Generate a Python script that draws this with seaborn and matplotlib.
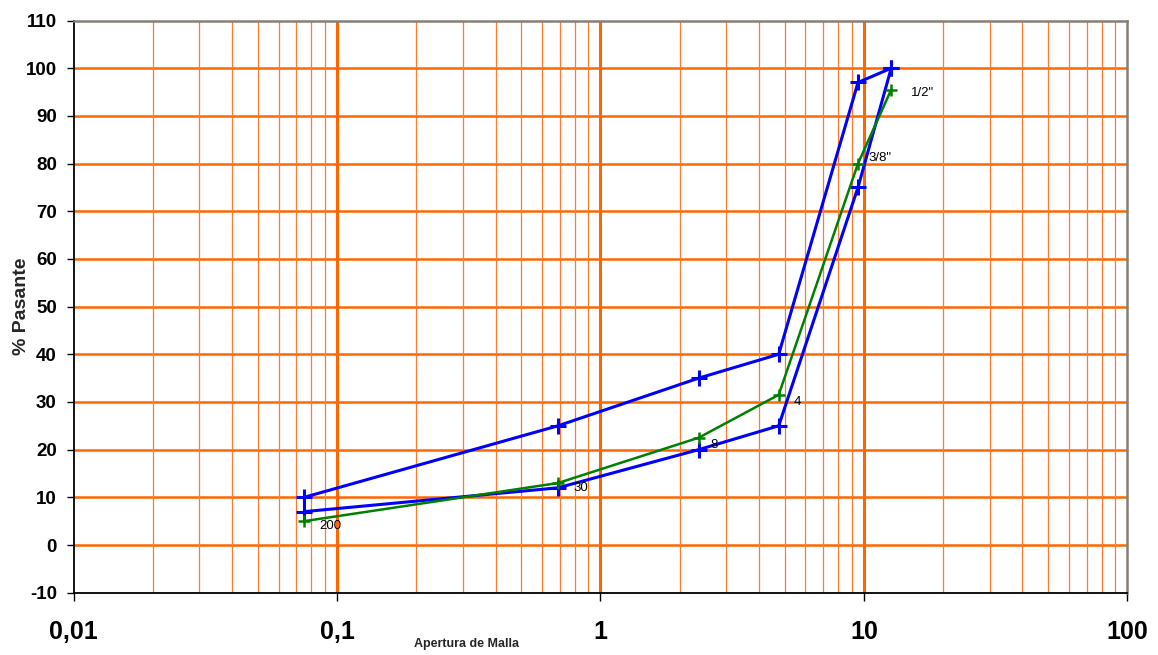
import numpy as np
import pandas as pd
import matplotlib
matplotlib.use("Agg")
import matplotlib.pyplot as plt
import seaborn as sns

# sieve openings (mm) and sieve names
abertura = [0.075, 0.69, 2.36, 4.75, 9.5, 12.7]
tamiz = ["200", "30", "8", "4", '3/8"', '1/2"']

# envelope limits and sample curve (% passing)
lim_sup = [10, 25, 35, 40, 97, 100]
lim_inf = [7, 12, 20, 25, 75, 100]
muestra = [5, 13, 22.5, 31.5, 80, 95.5]

x_ticks = [0.01, 0.1, 1, 10, 100]
x_ticklabels = ["0,01", "0,1", "1", "10", "100"]
y_ticks = list(range(-10, 111, 10))

sns.set_style("white")
plt.rcParams["font.family"] = ["Liberation Sans", "DejaVu Sans"]

df = pd.DataFrame({"Abertura": abertura, "Sup": lim_sup, "Inf": lim_inf, "Muestra": muestra})

fig = plt.figure(figsize=(11.58, 6.55), dpi=100)
ax = fig.add_axes([0.0635, 0.0951, 0.91, 0.8736])
ax.set_xscale("log")
ax.set_xlim(0.01, 100)
ax.set_ylim(-10, 110)

# grid
orange = "#FF6600"
for v in range(0, 101, 10):
    ax.axhline(v, color=orange, lw=1.8, zorder=1)
for dec in [0.01, 0.1, 1, 10]:
    for k in range(2, 10):
        ax.axvline(dec * k, color="#FF7A2E", lw=0.9, zorder=1)
for v in [0.1, 1, 10]:
    ax.axvline(v, color=orange, lw=2.2, zorder=1)

blue = "#0000FF"
green = "#008000"
for col in ["Sup", "Inf"]:
    sns.lineplot(data=df, x="Abertura", y=col, ax=ax, sort=False, color=blue, lw=2.2,
                 marker="+", markersize=11, markeredgewidth=2.2, markeredgecolor=blue, zorder=3)
sns.lineplot(data=df, x="Abertura", y="Muestra", ax=ax, sort=False, color=green, lw=1.8,
             marker="+", markersize=9, markeredgewidth=1.8, markeredgecolor=green, zorder=4)

offsets = [(15, -5), (15, -5), (12, -7), (15, -7), (10, 6), (20, -3)]
for xv, yv, lab, off in zip(abertura, muestra, tamiz, offsets):
    ax.annotate(lab, (xv, yv), xytext=off, textcoords="offset pixels",
                ha="left", va="center", fontsize=9.5, color="black", zorder=5)

ax.set_xticks(x_ticks)
ax.set_xticklabels(x_ticklabels, fontsize=18, fontweight="bold")
ax.xaxis.set_minor_locator(matplotlib.ticker.NullLocator())
ax.set_yticks(y_ticks)
ax.set_yticklabels([str(v) for v in y_ticks], fontsize=13.5, fontweight="bold")
ax.tick_params(axis="x", which="major", direction="out", length=6, width=1, pad=14, colors="black")
ax.tick_params(axis="y", which="major", direction="out", length=5, width=1, pad=7, colors="black")
ax.tick_params(left=True, bottom=True)

ax.set_xlabel("Apertura de Malla", fontsize=9, fontweight="bold")
ax.xaxis.set_label_coords(0.373, -0.079)
ax.set_ylabel("% Pasante", fontsize=14, fontweight="bold")
ax.yaxis.set_label_coords(-0.041, 0.5)

for s in ["left", "bottom"]:
    ax.spines[s].set_color("black")
    ax.spines[s].set_linewidth(1.3)
for s in ["top", "right"]:
    ax.spines[s].set_color("#867E78")
    ax.spines[s].set_linewidth(1.8)
for s in ax.spines.values():
    s.set_visible(True)
    s.set_zorder(6)

fig.savefig("out.png", dpi=100)
